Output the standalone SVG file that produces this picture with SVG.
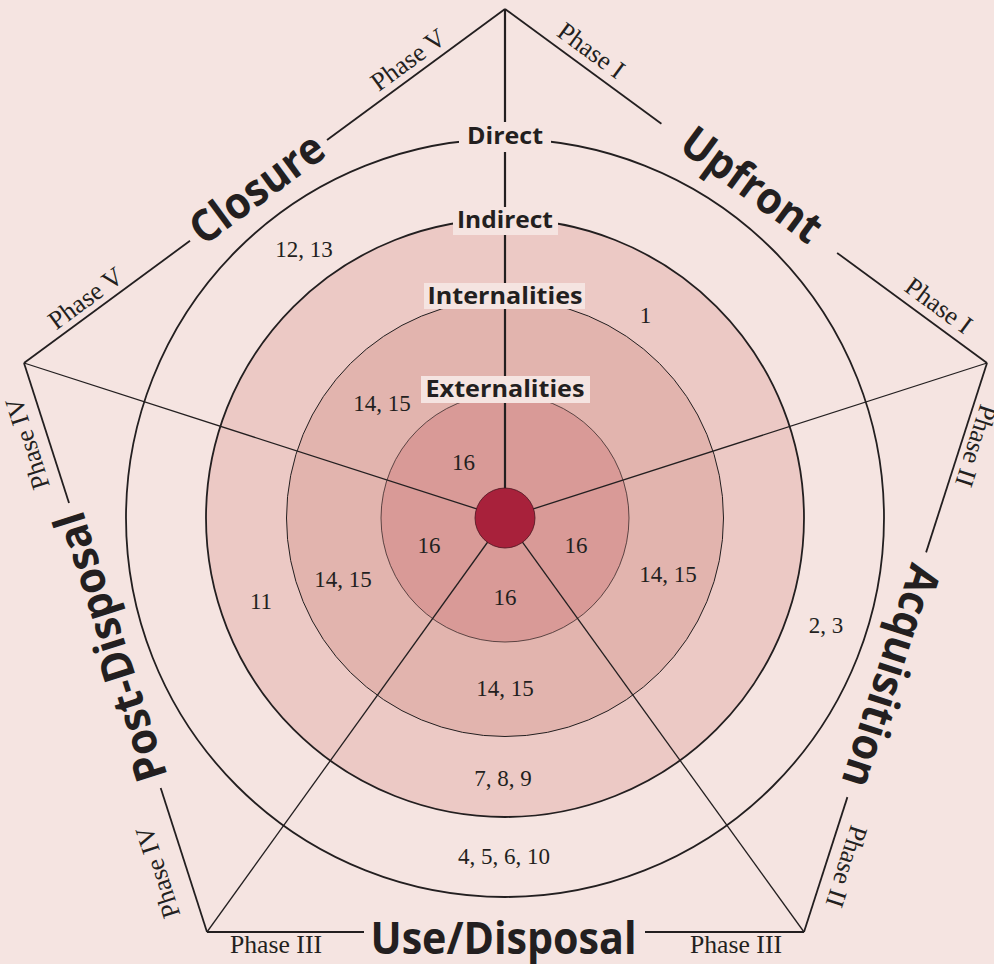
<svg xmlns="http://www.w3.org/2000/svg" width="994" height="964" viewBox="0 0 994 964">
<style>
.ln{stroke:#231f20;fill:none;stroke-linecap:butt}
.edge{stroke-width:1.8}
.rad{stroke-width:1.3}
.big{font-family:"Open Sans","DejaVu Sans",sans-serif;font-weight:700;font-size:44px;fill:#231f20;text-anchor:middle}
.ring{font-family:"Open Sans","DejaVu Sans",sans-serif;font-weight:700;font-size:24px;fill:#231f20;text-anchor:middle}
.ph{font-family:"Liberation Serif","Times New Roman",serif;font-size:26px;fill:#231f20;text-anchor:middle}
.num{font-family:"Liberation Serif","Times New Roman",serif;font-size:23px;fill:#231f20;text-anchor:middle}
.box{fill:#f5e4e1}
</style>
<rect id="background" x="0" y="0" width="994" height="964" fill="#f5e4e1"/>
<g id="rings">
<circle id="ring-direct" cx="505" cy="518" r="379" fill="none" stroke="#231f20" stroke-width="1.8"/>
<circle id="ring-indirect" cx="505" cy="518" r="299" fill="#ecc9c5" stroke="#231f20" stroke-width="1.8"/>
<circle id="ring-internalities" cx="505" cy="518" r="218.5" fill="#e2b4ae" stroke="#231f20" stroke-width="1"/>
<circle id="ring-externalities" cx="505" cy="518" r="124" fill="#d99a97" stroke="#3a2a2a" stroke-width="0.8"/>
</g>
<g id="connectors">
<line class="ln" x1="505" y1="518" x2="505" y2="9" stroke-width="2.2"/>
<line class="ln rad" x1="505" y1="518" x2="987" y2="363"/>
<line class="ln rad" x1="505" y1="518" x2="804" y2="932"/>
<line class="ln rad" x1="505" y1="518" x2="207" y2="932"/>
<line class="ln rad" x1="505" y1="518" x2="24" y2="363"/>
</g>
<g id="pentagon">
<line class="ln edge" x1="505" y1="9" x2="661.4" y2="123.8"/>
<line class="ln edge" x1="837.1" y1="252.9" x2="987" y2="363"/>
<line class="ln edge" x1="987" y1="363" x2="926.1" y2="552.4"/>
<line class="ln edge" x1="847.4" y1="797.1" x2="804" y2="932"/>
<line class="ln edge" x1="804" y1="932" x2="645" y2="932"/>
<line class="ln edge" x1="364" y1="932" x2="207" y2="932"/>
<line class="ln edge" x1="207" y1="932" x2="160.7" y2="788"/>
<line class="ln edge" x1="69" y1="503" x2="24" y2="363"/>
<line class="ln edge" x1="24" y1="363" x2="190" y2="240.8"/>
<line class="ln edge" x1="327" y1="140" x2="505" y2="9"/>
</g>
<g id="center-node">
<circle cx="505" cy="518" r="30" fill="#a8213b" stroke="#4a1420" stroke-width="0.8"/>
</g>
<g id="ring-labels">
<g id="label-direct"><rect class="box" x="459" y="122" width="92" height="30"/><text class="ring" x="505" y="144" textLength="76" lengthAdjust="spacingAndGlyphs">Direct</text></g>
<g id="label-indirect"><rect class="box" x="453" y="207" width="105" height="28"/><text class="ring" x="505" y="228" textLength="96" lengthAdjust="spacingAndGlyphs">Indirect</text></g>
<g id="label-internalities"><rect class="box" x="424" y="283" width="161" height="26"/><text class="ring" x="505" y="304" textLength="155" lengthAdjust="spacingAndGlyphs">Internalities</text></g>
<g id="label-externalities"><rect class="box" x="421" y="376" width="169" height="27"/><text class="ring" x="505" y="397" textLength="159" lengthAdjust="spacingAndGlyphs">Externalities</text></g>
</g>
<g id="stage-labels">
<text id="stage-upfront" class="big" transform="translate(752.2,184.4) rotate(36.3)" x="0" y="15.7" textLength="163" lengthAdjust="spacingAndGlyphs">Upfront</text>
<text id="stage-acquisition" class="big" transform="translate(891.5,676.3) rotate(107.8)" x="0" y="15.7" textLength="231" lengthAdjust="spacingAndGlyphs">Acquisition</text>
<text id="stage-use" class="big" transform="translate(503.5,938)" x="0" y="15.7" textLength="266" lengthAdjust="spacingAndGlyphs">Use/Disposal</text>
<text id="stage-post" class="big" transform="translate(110.1,647.1) rotate(-107.8)" x="0" y="15.7" textLength="280" lengthAdjust="spacingAndGlyphs">Post-Disposal</text>
<text id="stage-closure" class="big" transform="translate(256.7,188) rotate(-36.35)" x="0" y="15.7" textLength="155" lengthAdjust="spacingAndGlyphs">Closure</text>
</g>
<g id="phase-labels">
<text class="ph" transform="translate(590.3,51.7) rotate(36.3)" y="7">Phase I</text>
<text class="ph" transform="translate(937.7,306.9) rotate(36.3)" y="7">Phase I</text>
<text class="ph" transform="translate(974.5,445.4) rotate(107.8)" y="7">Phase II</text>
<text class="ph" transform="translate(845,866) rotate(107.8)" y="7">Phase II</text>
<text class="ph" transform="translate(276,946)" y="7" textLength="92" lengthAdjust="spacingAndGlyphs">Phase III</text>
<text class="ph" transform="translate(736,946)" y="7" textLength="92" lengthAdjust="spacingAndGlyphs">Phase III</text>
<text class="ph" transform="translate(159.3,871.8) rotate(-107.8)" y="7">Phase IV</text>
<text class="ph" transform="translate(29,443) rotate(-107.8)" y="7">Phase IV</text>
<text class="ph" transform="translate(86.5,299.6) rotate(-36.35)" y="7">Phase V</text>
<text class="ph" transform="translate(409.1,61.1) rotate(-36.35)" y="7">Phase V</text>
</g>
<g id="numbers">
<text class="num" x="304" y="257">12, 13</text>
<text class="num" x="645.5" y="323">1</text>
<text class="num" x="382" y="411">14, 15</text>
<text class="num" x="463.5" y="470">16</text>
<text class="num" x="429" y="553">16</text>
<text class="num" x="576" y="553">16</text>
<text class="num" x="505" y="605">16</text>
<text class="num" x="343" y="587">14, 15</text>
<text class="num" x="668" y="582">14, 15</text>
<text class="num" x="261" y="608.5">11</text>
<text class="num" x="826" y="633">2, 3</text>
<text class="num" x="505" y="696">14, 15</text>
<text class="num" x="503" y="785.5">7, 8, 9</text>
<text class="num" x="504" y="864">4, 5, 6, 10</text>
</g>
</svg>
